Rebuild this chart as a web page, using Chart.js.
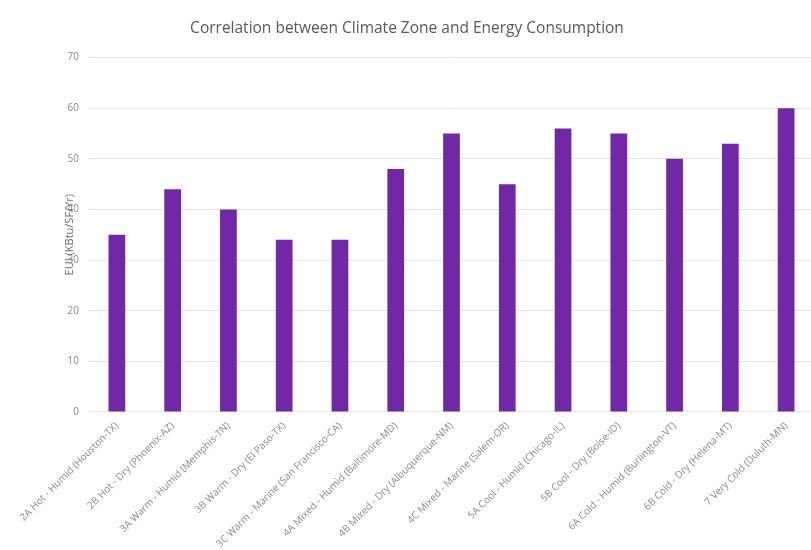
<!DOCTYPE html>
<html lang="en">
<head>
  <meta charset="UTF-8">
  <title>Correlation between Climate Zone and Energy Consumption</title>
  <script src="https://cdn.jsdelivr.net/npm/chart.js"></script>
  <style>
    html, body { margin: 0; padding: 0; background: #fff; overflow: hidden; }
    #wrap { width: 840px; height: 550px; }
  </style>
</head>
<body>
  <div id="wrap"><canvas id="chart"></canvas></div>
  <script>
    const zones = [
      '2A Hot - Humid (Houston-TX)',
      '2B Hot - Dry (Phoenix-AZ)',
      '3A Warm - Humid (Memphis-TN)',
      '3B Warm - Dry (El Paso-TX)',
      '3C Warm - Marine (San Francisco-CA)',
      '4A Mixed - Humid (Baltimore-MD)',
      '4B Mixed - Dry (Albuquerque-NM)',
      '4C Mixed - Marine (Salem-OR)',
      '5A Cool - Humid (Chicago-IL)',
      '5B Cool - Dry (Boise-ID)',
      '6A Cold - Humid (Burlington-VT)',
      '6B Cold - Dry (Helena-MT)',
      '7 Very Cold (Duluth-MN)'
    ];
    const eui = [35, 44, 40, 34, 34, 48, 55, 45, 56, 55, 50, 53, 60];
    const yMin = 0, yMax = 70, yStep = 10;

    Chart.defaults.font.family = '"Open Sans", sans-serif';

    new Chart(document.getElementById('chart'), {
      type: 'bar',
      data: {
        labels: zones,
        datasets: [{
          label: 'EUI',
          data: eui,
          backgroundColor: '#7128a6',
          barPercentage: 0.3,
          categoryPercentage: 1
        }]
      },
      options: {
        responsive: true,
        maintainAspectRatio: false,
        animation: false,
        layout: { padding: { left: 0, right: 26, top: 0, bottom: 0 } },
        plugins: {
          legend: { display: false },
          tooltip: { enabled: false },
          title: {
            display: true,
            text: 'Correlation between Climate Zone and Energy Consumption',
            color: '#595959',
            font: { size: 15.5, weight: 'normal' },
            padding: { top: 19, bottom: 20 }
          }
        },
        scales: {
          x: {
            grid: { display: false },
            border: { display: false },
            ticks: {
              color: '#8a8a8a',
              font: { size: 10 },
              minRotation: 45,
              maxRotation: 45,
              autoSkip: false,
              padding: 0
            }
          },
          y: {
            min: yMin,
            max: yMax,
            grid: { color: '#e4e4e4', drawTicks: false },
            border: { display: false },
            ticks: { stepSize: yStep, color: '#8a8a8a', font: { size: 10 }, padding: 10 },
            title: {
              display: true,
              text: 'EUI (KBtu/SF/Yr)',
              color: '#707070',
              font: { size: 11 },
              padding: { top: 63, bottom: 0 }
            },
            // keep the axis box wide so the plot starts where the original does
            afterFit(scale) { scale.width = 89; }
          }
        }
      }
    });
  </script>
</body>
</html>
